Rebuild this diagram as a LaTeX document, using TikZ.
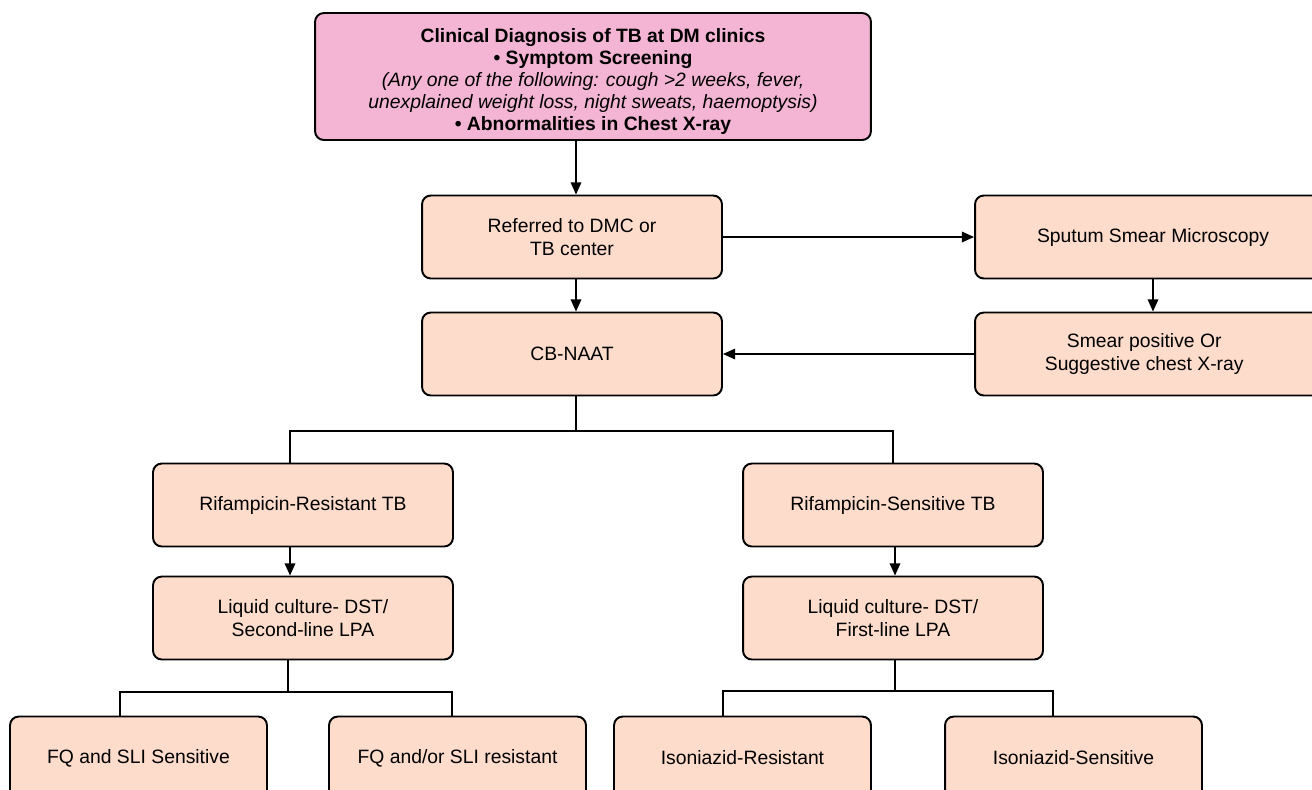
\documentclass[tikz,border=0pt]{standalone}
\usepackage{fontspec}
\setmainfont{Liberation Sans}
\usetikzlibrary{arrows.meta}

\definecolor{peach}{HTML}{FDDCCB}
\definecolor{pinkbox}{HTML}{F4B5D4}

\tikzset{
    stepbox/.style={draw, line width=1.1pt, rounded corners=5pt, fill=peach,
        minimum width=6cm, minimum height=1.66cm, align=center,
        font=\fontsize{11}{13}\selectfont, inner sep=0pt},
    leafbox/.style={stepbox, minimum width=5.14cm},
    flow/.style={line width=1.1pt, -{Triangle[length=7pt,width=6pt]}},
    tree/.style={line width=1.1pt}
}

\begin{document}
\begin{tikzpicture}[x=0.02cm, y=-0.02cm]
    \clip (0,0) rectangle (1312,789);
    \useasboundingbox (0,0) rectangle (1312,789);
    % Top box
    \node[stepbox, fill=pinkbox, minimum width=11.12cm, minimum height=2.54cm,
          font=\fontsize{11}{12.5}\selectfont] (clin) at (593,76.5)
        {\rule{0pt}{14pt}\textbf{Clinical Diagnosis of TB at DM clinics}\\
         \textbf{\textbullet\ Symptom Screening}\\
         \textit{(Any one of the following: cough >2 weeks, fever,}\\
         \textit{unexplained weight loss, night sweats, haemoptysis)}\\
         \textbf{\textbullet\ Abnormalities in Chest X-ray}};
    % Referral and testing
    \node[stepbox] (refer) at (572,237) {Referred to DMC or\\TB center};
    \node[stepbox] (cbnaat) at (572,354) {CB-NAAT};
    \node[stepbox, minimum width=7.12cm] (sputum) at (1153,237) {Sputum Smear Microscopy};
    \node[stepbox, minimum width=7.12cm] (smear) at (1153,354) {\hspace*{-10pt}Smear positive Or\\\hspace*{-10pt}Suggestive chest X-ray};
    % Rifampicin branches
    \node[stepbox] (rifres) at (303,505) {Rifampicin-Resistant TB};
    \node[stepbox] (rifsen) at (893,505) {Rifampicin-Sensitive TB};
    \node[stepbox] (lpatwo) at (303,618) {Liquid culture- DST/\\Second-line LPA};
    \node[stepbox] (lpaone) at (893,618) {Liquid culture- DST/\\First-line LPA};
    % Outcomes
    \node[leafbox] (fqsen) at (138.5,758) {FQ and SLI Sensitive};
    \node[leafbox] (fqres) at (457.5,758) {FQ and/or SLI resistant};
    \node[leafbox] (inhres) at (742.5,758) {Isoniazid-Resistant};
    \node[leafbox] (inhsen) at (1073.5,758) {Isoniazid-Sensitive};

    % Arrows
    \draw[flow] (clin.south -| 576,0) -- (refer.north -| 576,0);
    \draw[flow] (refer.south -| 576,0) -- (cbnaat.north -| 576,0);
    \draw[flow] (refer.east) -- (sputum.west |- refer.east);
    \draw[flow] (sputum.south) -- (smear.north);
    \draw[flow] (smear.west |- cbnaat.east) -- (cbnaat.east);
    \draw[flow] (rifres.south -| 290,0) -- (lpatwo.north -| 290,0);
    \draw[flow] (rifsen.south -| 895,0) -- (lpaone.north -| 895,0);
    % Branch lines
    \draw[tree] (cbnaat.south -| 576,0) -- (576,431) -| (rifres.north -| 290,0);
    \draw[tree] (576,431) -| (rifsen.north);
    \draw[tree] (lpatwo.south -| 288,0) -- (288,692) -| (fqsen.north -| 120,0);
    \draw[tree] (288,692) -| (fqres.north -| 452,0);
    \draw[tree] (lpaone.south -| 895,0) -- (895,691) -| (inhres.north -| 723,0);
    \draw[tree] (895,691) -| (inhsen.north -| 1053,0);
\end{tikzpicture}
\end{document}
